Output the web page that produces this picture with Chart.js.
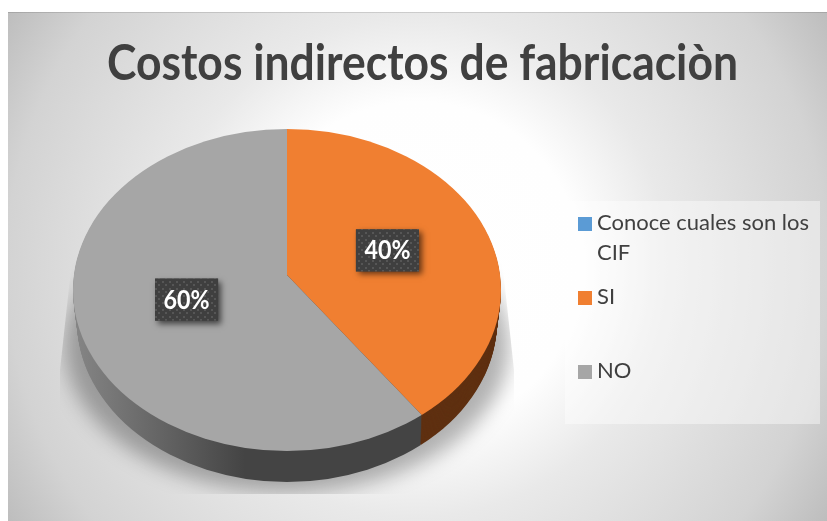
<!DOCTYPE html>
<html>
<head>
<meta charset="utf-8">
<style>html,body{margin:0;padding:0;background:#fff;overflow:hidden}canvas{display:block}</style>
<script src="https://cdn.jsdelivr.net/npm/chart.js@4"></script>
</head>
<body>
<canvas id="c" width="827" height="521"></canvas>
<script>
const chartTitle = "Costos indirectos de fabricaciòn";
const categories = ["Conoce cuales son los CIF", "SI", "NO"];
const shares = [0, 40, 60];
const colors = ["#5B9BD5", "#F07F31", "#A6A6A6"];
const sideColors = ["#2E5F8C", "#5F3011", "#444444"];

const TILT = 0.754, DEPTH = 31, RX = 214, RY = 161, CY_SHIFT = 15;
const FONT = "Lato, 'Open Sans', sans-serif";

function ellipse(ctx, x, y, rx, ry) {
  ctx.beginPath();
  ctx.ellipse(x, y, rx, ry, 0, 0, Math.PI * 2);
}

const pie3d = {
  id: "pie3d",
  beforeDraw(chart) {
    const ctx = chart.ctx;
    ctx.save();
    ctx.fillStyle = "#fff";
    ctx.fillRect(0, 0, 827, 521);
    const g = ctx.createRadialGradient(417, 266, 0, 417, 266, 483);
    g.addColorStop(0, "#ffffff");
    g.addColorStop(0.34, "#fefefe");
    g.addColorStop(0.52, "#e9e9e9");
    g.addColorStop(0.85, "#d3d3d3");
    g.addColorStop(1, "#bdbdbd");
    ctx.fillStyle = g;
    ctx.fillRect(8, 12, 819, 509);
    ctx.fillStyle = "rgba(0,0,0,0.12)";
    ctx.fillRect(8, 12, 819, 1);
    ctx.restore();

    ctx.save();
    ctx.fillStyle = "#404040";
    ctx.font = "bold 50px " + FONT;
    ctx.textAlign = "center";
    ctx.textBaseline = "alphabetic";
    ctx.fillText(chartTitle, 422.5, 80, 631);
    ctx.restore();

    // legend panel
    ctx.save();
    ctx.fillStyle = "rgba(255,255,255,0.42)";
    ctx.fillRect(565, 201, 255, 223);
    ctx.font = "22px " + FONT;
    ctx.textAlign = "left";
    categories.forEach((label, i) => {
      const base = 230 + 74 * i;
      ctx.fillStyle = colors[i];
      ctx.fillRect(578, base - 13, 14, 14);
      const words = label.split(" ");
      const lines = [];
      let cur = "";
      words.forEach(w => {
        const t = cur ? cur + " " + w : w;
        if (ctx.measureText(t).width > 225 && cur) { lines.push(cur); cur = w; } else cur = t;
      });
      lines.push(cur);
      ctx.fillStyle = "#404040";
      lines.forEach((l, j) => ctx.fillText(l, 597, base + 30 * j, 212));
    });
    ctx.restore();
  },
  beforeDatasetsDraw(chart) {
    const ctx = chart.ctx;
    const arcs = chart.getDatasetMeta(0).data;
    const ax = arcs[0].x, ay = arcs[0].y, R = arcs[0].outerRadius;
    const ey = ay + CY_SHIFT;

    // ground shadow
    ctx.save();
    ctx.beginPath();
    [[73,250],[501,250],[514,370],[514,494],[60,494],[60,370]].forEach((p, i) =>
      i ? ctx.lineTo(p[0], p[1]) : ctx.moveTo(p[0], p[1]));
    ctx.closePath();
    ctx.clip();
    ctx.filter = "blur(10px)";
    ctx.fillStyle = "rgba(0,0,0,0.30)";
    ellipse(ctx, ax, ey + 56, 222, 146);
    ctx.fill();
    ctx.restore();

    // extruded side
    for (let d = DEPTH; d >= 1; d--) {
      ctx.save();
      const rx = RX - 4 * d / DEPTH;
      ellipse(ctx, ax, ey + d, rx, RY);
      ctx.clip();
      ctx.translate(ax, ay + d);
      ctx.scale(1, TILT);
      arcs.forEach((a, i) => {
        if (a.circumference <= 0) return;
        let fill = sideColors[i];
        if (i === 2) {
          const g = ctx.createLinearGradient(75 - ax, 0, 245 - ax, 0);
          g.addColorStop(0, "#858585");
          g.addColorStop(1, sideColors[i]);
          fill = g;
        }
        ctx.fillStyle = fill;
        ctx.beginPath();
        ctx.moveTo(0, 0);
        ctx.arc(0, 0, R, a.startAngle, a.endAngle);
        ctx.closePath();
        ctx.fill();
      });
      ctx.restore();
    }

    // top face: library arcs, tilted and clipped
    ctx.save();
    ellipse(ctx, ax, ey, RX, RY);
    ctx.clip();
    ctx.translate(ax, ay);
    ctx.scale(1, TILT);
    ctx.translate(-ax, -ay);
  },
  afterDatasetsDraw(chart) {
    const ctx = chart.ctx;
    ctx.restore();

    const arcs = chart.getDatasetMeta(0).data;
    const total = shares.reduce((s, v) => s + v, 0);
    const pat = document.createElement("canvas");
    pat.width = pat.height = 7;
    const pc = pat.getContext("2d");
    pc.fillStyle = "#3f3f3f";
    pc.fillRect(0, 0, 7, 7);
    pc.fillStyle = "#565656";
    pc.fillRect(1, 1, 2, 2);
    pc.fillRect(4, 4, 2, 2);

    arcs.forEach((a, i) => {
      if (!shares[i]) return;
      const mid = (a.startAngle + a.endAngle) / 2;
      const r = a.outerRadius * 0.44;
      const x = a.x + Math.cos(mid) * r;
      const y = a.y + Math.sin(mid) * r * TILT;
      const w = 63, h = 42;
      ctx.save();
      ctx.shadowColor = "rgba(0,0,0,0.6)";
      ctx.shadowBlur = 6;
      ctx.shadowOffsetX = 3;
      ctx.shadowOffsetY = 3;
      ctx.fillStyle = "#3f3f3f";
      ctx.fillRect(x - w / 2, y - h / 2, w, h);
      ctx.restore();
      ctx.save();
      ctx.fillStyle = ctx.createPattern(pat, "repeat");
      ctx.fillRect(x - w / 2, y - h / 2, w, h);
      ctx.fillStyle = "#fff";
      ctx.font = "bold 26px " + FONT;
      ctx.textAlign = "center";
      ctx.textBaseline = "alphabetic";
      ctx.fillText(Math.round(shares[i] / total * 100) + "%", x, y + 9, 46);
      ctx.restore();
    });
  }
};

new Chart(document.getElementById("c"), {
  type: "pie",
  plugins: [pie3d],
  data: {
    labels: categories,
    datasets: [{
      data: shares,
      backgroundColor: colors,
      borderWidth: 0,
      radius: 240,
      clip: false
    }]
  },
  options: {
    responsive: false,
    animation: false,
    events: [],
    layout: { padding: { left: 0, right: 253, top: 29, bottom: 0 } },
    plugins: {
      legend: { display: false },
      title: { display: false },
      tooltip: { enabled: false }
    }
  }
});
</script>
</body>
</html>
